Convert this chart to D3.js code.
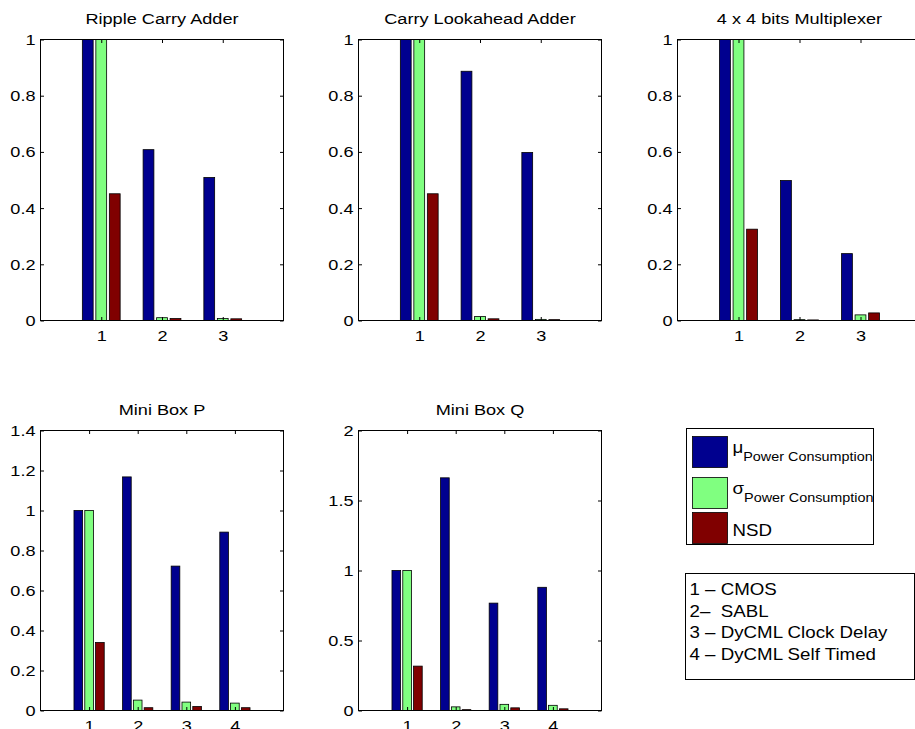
<!DOCTYPE html>
<html>
<head>
<meta charset="utf-8">
<script src="https://cdn.jsdelivr.net/npm/d3@7"></script>
<style>
  html, body { margin: 0; padding: 0; background: #fff; overflow: hidden; }
  svg text { font-family: "Liberation Sans", Arial, sans-serif; fill: #000; transform-box: fill-box; }
  .ylab { transform-origin: right center; transform: scaleX(1.17); }
  .xlab, .title { transform-origin: center center; transform: scaleX(1.17); }
  .leg { transform-origin: left center; transform: scaleX(1.17); white-space: pre; }
</style>
</head>
<body>
<div id="chart"></div>
<script>
// categories and labels
const titles = ["Ripple Carry Adder", "Carry Lookahead Adder", "4 x 4 bits Multiplexer", "Mini Box P", "Mini Box Q"];
const cats3 = ["1", "2", "3"];
const cats4 = ["1", "2", "3", "4"];
const ticksUnit = [0, 0.2, 0.4, 0.6, 0.8, 1];
const ticksBoxP = [0, 0.2, 0.4, 0.6, 0.8, 1, 1.2, 1.4];
const ticksBoxQ = [0, 0.5, 1, 1.5, 2];
const seriesNames = ["μ", "σ", "NSD"];
const seriesSubs = ["Power Consumption", "Power Consumption", ""];
const groupNotes = ["1 – CMOS", "2–  SABL", "3 – DyCML Clock Delay", "4 – DyCML Self Timed"];

// values (normalised to CMOS)
const rcaMu = [1, 0.608, 0.509];
const rcaSigma = [1, 0.010, 0.007];
const rcaNsd = [0.451, 0.007, 0.006];
const claMu = [1, 0.887, 0.598];
const claSigma = [1, 0.014, 0.004];
const claNsd = [0.451, 0.006, 0.003];
const muxMu = [1, 0.498, 0.238];
const muxSigma = [1, 0.003, 0.020];
const muxNsd = [0.325, 0.002, 0.027];
const boxPMu = [1, 1.168, 0.722, 0.892];
const boxPSigma = [1, 0.052, 0.042, 0.037];
const boxPNsd = [0.340, 0.014, 0.020, 0.014];
const boxQMu = [1, 1.662, 0.767, 0.880];
const boxQSigma = [1, 0.026, 0.044, 0.037];
const boxQNsd = [0.317, 0.006, 0.019, 0.012];

const colors = ["#00008f", "#80ff80", "#800000"];

const W = 915, H = 729;
const fontSize = 15.5;

const svg = d3.select("#chart").append("svg")
  .attr("width", W)
  .attr("height", H);

// subplot layout
const panels = [
  { title: titles[0], cats: cats3, series: [rcaMu, rcaSigma, rcaNsd], yMax: 1, yTicks: ticksUnit, left: 40, top: 39, w: 243, h: 281 },
  { title: titles[1], cats: cats3, series: [claMu, claSigma, claNsd], yMax: 1, yTicks: ticksUnit, left: 358, top: 39, w: 243, h: 281 },
  { title: titles[2], cats: cats3, series: [muxMu, muxSigma, muxNsd], yMax: 1, yTicks: ticksUnit, left: 677, top: 39, w: 244, h: 281 },
  { title: titles[3], cats: cats4, series: [boxPMu, boxPSigma, boxPNsd], yMax: 1.4, yTicks: ticksBoxP, left: 40, top: 430, w: 243, h: 280 },
  { title: titles[4], cats: cats4, series: [boxQMu, boxQSigma, boxQNsd], yMax: 2, yTicks: ticksBoxQ, left: 358, top: 430, w: 243, h: 280 },
];

panels.forEach((p) => {
  const g = svg.append("g").attr("transform", `translate(${p.left + 0.5},${p.top + 0.5})`);
  const n = p.cats.length;
  const nSeries = p.series.length;

  const x = d3.scaleLinear().domain([0, n + 1]).range([0, p.w]);
  const y = d3.scaleLinear().domain([0, p.yMax]).range([p.h, 0]);

  // matlab style grouped bar widths
  const groupW = Math.min(0.8, nSeries / (nSeries + 1.5));
  const slot = groupW / nSeries;
  const barW = slot * 0.8;

  p.series.forEach((vals, s) => {
    const off = (s - (nSeries - 1) / 2) * slot;
    g.selectAll(null)
      .data(vals)
      .enter()
      .append("rect")
      .attr("x", (d, i) => x(i + 1 + off - barW / 2))
      .attr("y", (d) => y(d))
      .attr("width", x(barW) - x(0))
      .attr("height", (d) => y(0) - y(d))
      .attr("fill", colors[s])
      .attr("stroke", "#000")
      .attr("stroke-width", 0.8);
  });

  const catIdx = p.cats.map((c, i) => i + 1);

  //axes with inward ticks
  const yAxis = g.append("g")
    .call(d3.axisLeft(y).tickValues(p.yTicks).tickSize(-3.5).tickPadding(5).tickFormat((d) => String(d)));
  yAxis.selectAll("text").attr("class", "ylab").style("font-size", fontSize + "px");

  g.append("g").attr("transform", `translate(${p.w},0)`)
    .call(d3.axisRight(y).tickValues(p.yTicks).tickSize(-3.5).tickFormat(""));

  const xAxis = g.append("g").attr("transform", `translate(0,${p.h})`)
    .call(d3.axisBottom(x).tickValues(catIdx).tickSize(-3.5).tickPadding(9.5).tickFormat((d) => p.cats[d - 1]));
  xAxis.selectAll("text").attr("class", "xlab").style("font-size", fontSize + "px");

  g.append("g")
    .call(d3.axisTop(x).tickValues(catIdx).tickSize(-3.5).tickFormat(""));

  g.selectAll(".domain").remove();
  g.selectAll(".tick line").attr("stroke", "#000");
  g.selectAll(".tick text").attr("font-family", null);

  g.append("rect")
    .attr("width", p.w)
    .attr("height", p.h)
    .attr("fill", "none")
    .attr("stroke", "#000");

  g.append("text")
    .attr("class", "title")
    .attr("x", p.w / 2)
    .attr("y", -15.5)
    .attr("text-anchor", "middle")
    .style("font-size", fontSize + "px")
    .text(p.title);
});

// series legend
const leg = svg.append("g").attr("transform", "translate(686.5,428.5)");
leg.append("rect").attr("width", 187).attr("height", 116).attr("fill", "#fff").attr("stroke", "#000");
const legY = d3.scaleBand().domain(seriesNames).range([8, 116]).paddingInner(0.12);
const entries = leg.selectAll(".entry")
  .data(seriesNames)
  .enter()
  .append("g")
  .attr("class", "entry")
  .attr("transform", (d, i) => `translate(6,${[8, 49, 84][i]})`);
entries.append("rect")
  .attr("width", 35)
  .attr("height", 31)
  .attr("fill", (d, i) => colors[i])
  .attr("stroke", "#000")
  .attr("stroke-width", 0.8);
const lt = entries.append("text")
  .attr("class", "leg")
  .attr("x", 40)
  .attr("y", (d, i) => (seriesSubs[i] ? 17 : 24))
  .style("font-size", "16px");
lt.append("tspan").text((d) => d);
lt.append("tspan")
  .attr("dy", 8)
  .style("font-size", "12.3px")
  .text((d, i) => seriesSubs[i]);

// category legend
const notes = svg.append("g").attr("transform", "translate(685.5,573.5)");
notes.append("rect").attr("width", 229).attr("height", 106).attr("fill", "#fff").attr("stroke", "#000");
notes.selectAll(".note")
  .data(groupNotes)
  .enter()
  .append("text")
  .attr("class", "leg")
  .attr("x", 4)
  .attr("y", (d, i) => 21.5 + i * 21.7)
  .style("font-size", "16px")
  .text((d) => d);
</script>
</body>
</html>
